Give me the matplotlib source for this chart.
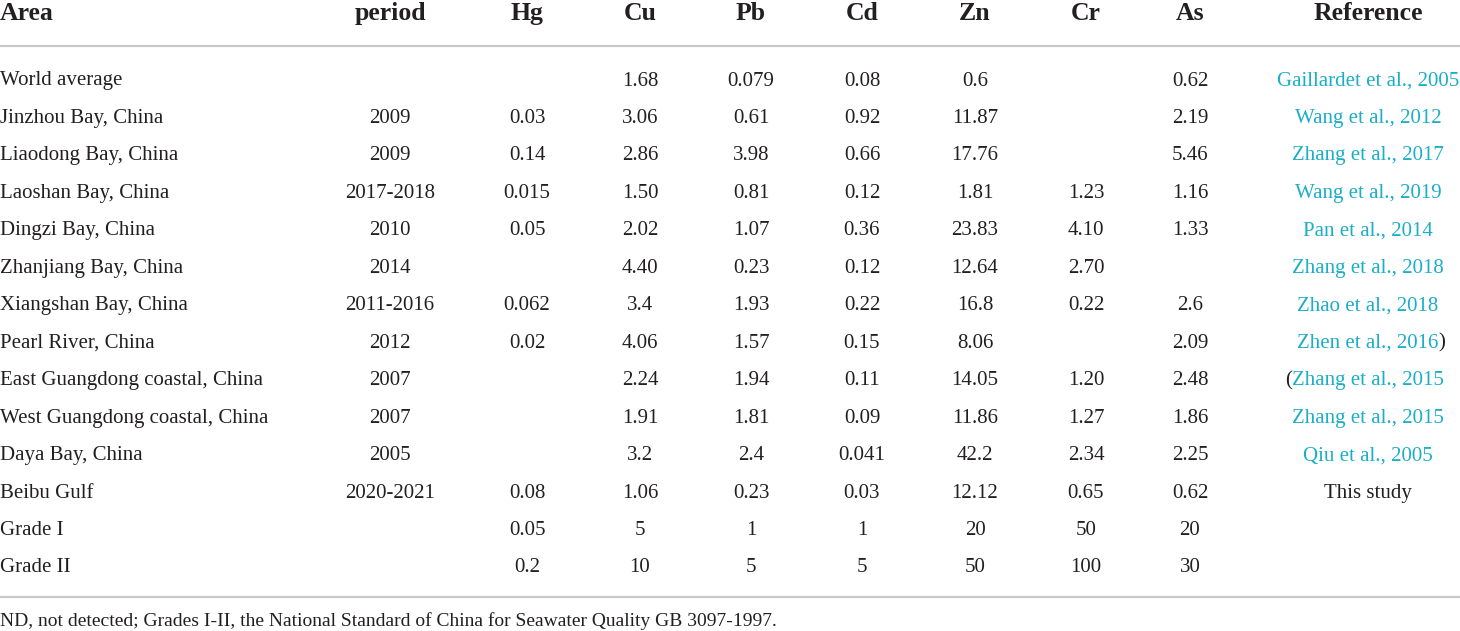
import matplotlib
matplotlib.use("Agg")
import matplotlib.pyplot as plt

plt.rcParams['font.family'] = ['Liberation Serif', 'DejaVu Serif']

# table contents
headers = ["Area", "period", "Hg", "Cu", "Pb", "Cd", "Zn", "Cr", "As", "Reference"]
areas = ["World average", "Jinzhou Bay, China", "Liaodong Bay, China", "Laoshan Bay, China",
         "Dingzi Bay, China", "Zhanjiang Bay, China", "Xiangshan Bay, China",
         "Pearl River, China", "East Guangdong coastal, China", "West Guangdong coastal, China",
         "Daya Bay, China", "Beibu Gulf", "Grade I", "Grade II"]
period = ["", "2009", "2009", "2017-2018", "2010", "2014", "2011-2016", "2012", "2007", "2007",
          "2005", "2020-2021", "", ""]
hg = ["", "0.03", "0.14", "0.015", "0.05", "", "0.062", "0.02", "", "", "", "0.08", "0.05", "0.2"]
cu = ["1.68", "3.06", "2.86", "1.50", "2.02", "4.40", "3.4", "4.06", "2.24", "1.91", "3.2",
      "1.06", "5", "10"]
pb = ["0.079", "0.61", "3.98", "0.81", "1.07", "0.23", "1.93", "1.57", "1.94", "1.81", "2.4",
      "0.23", "1", "5"]
cd = ["0.08", "0.92", "0.66", "0.12", "0.36", "0.12", "0.22", "0.15", "0.11", "0.09", "0.041",
      "0.03", "1", "5"]
zn = ["0.6", "11.87", "17.76", "1.81", "23.83", "12.64", "16.8", "8.06", "14.05", "11.86",
      "42.2", "12.12", "20", "50"]
cr = ["", "", "", "1.23", "4.10", "2.70", "0.22", "", "1.20", "1.27", "2.34", "0.65", "50", "100"]
as_ = ["0.62", "2.19", "5.46", "1.16", "1.33", "", "2.6", "2.09", "2.48", "1.86", "2.25",
       "0.62", "20", "30"]
refs = ["Gaillardet et al., 2005", "Wang et al., 2012", "Zhang et al., 2017", "Wang et al., 2019",
        "Pan et al., 2014", "Zhang et al., 2018", "Zhao et al., 2018", "Zhen et al., 2016",
        "Zhang et al., 2015", "Zhang et al., 2015", "Qiu et al., 2005", "This study", "", ""]
# stray brackets in the source table: (prefix, suffix)
ref_brackets = {7: ("", ")"), 8: ("(", "")}
footnote = ("ND, not detected; Grades I-II, the National Standard of China for "
            "Seawater Quality GB 3097-1997.")

TEXT = "#231f20"
LINK = "#1aaec8"
RULE = "#c9c9c9"

W, H = 1460, 631
fig = plt.figure(figsize=(W / 100, H / 100), dpi=100)
ax = fig.add_axes([0, 0, 1, 1])
ax.set_xlim(0, W)
ax.set_ylim(H, 0)
ax.axis("off")

col_x = [0, 390, 527, 640, 751, 862, 975, 1086, 1190, 1368]
header_base = 20
row_base0 = 85.5
row_step = 37.46

for j, h in enumerate(headers):
    ax.text(col_x[j], header_base, h, ha="left" if j == 0 else "center", va="baseline",
            fontsize=18.5, fontweight="bold", color=TEXT)

ax.axhline(46, color=RULE, lw=1.6)
ax.axhline(597, color=RULE, lw=1.6)

columns = [period, hg, cu, pb, cd, zn, cr, as_]
for i, name in enumerate(areas):
    y = row_base0 + i * row_step
    ax.text(col_x[0], y, name, ha="left", va="baseline", fontsize=15, color=TEXT)
    for j, col in enumerate(columns):
        if col[i]:
            ax.text(col_x[j + 1], y, col[i], ha="center", va="baseline", fontsize=15, color=TEXT)
    if refs[i]:
        c = TEXT if refs[i] == "This study" else LINK
        t = ax.text(col_x[9], y, refs[i], ha="center", va="baseline", fontsize=15, color=c)
        pre, suf = ref_brackets.get(i, ("", ""))
        if suf:
            ax.annotate(suf, xy=(1, 0), xycoords=t, ha="left", va="bottom",
                        fontsize=15, color=TEXT)
        if pre:
            ax.annotate(pre, xy=(0, 0), xycoords=t, ha="right", va="bottom",
                        fontsize=15, color=TEXT)

ax.text(0, 626, footnote, ha="left", va="baseline", fontsize=14, color=TEXT)

fig.savefig("out.png", dpi=100, facecolor="white")
